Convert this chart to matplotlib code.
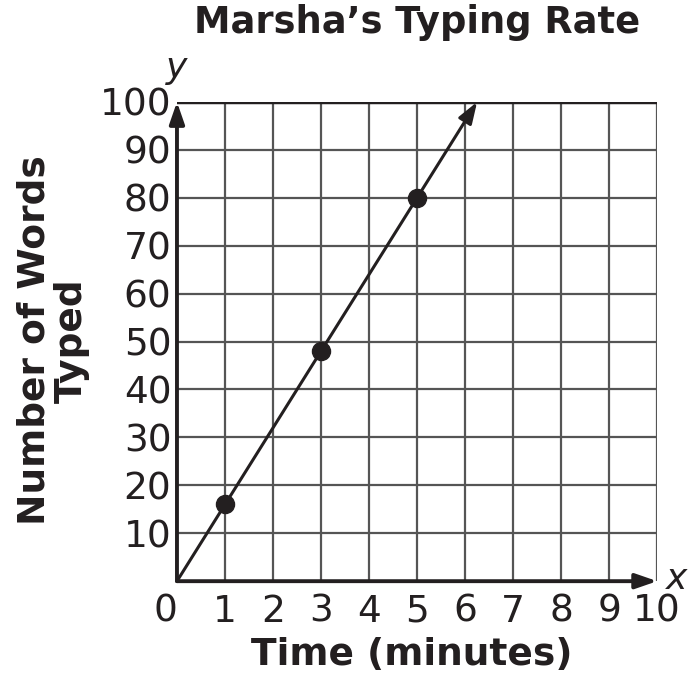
import numpy as np
import matplotlib.pyplot as plt

# Data
minutes = [1, 3, 5]
words = [16, 48, 80]
rate = 16  # words per minute (line through origin)
x_ticks = list(range(0, 11))
y_ticks = list(range(10, 101, 10))

ink = '#231f20'

fig = plt.figure(figsize=(6.94, 6.75), dpi=100)
ax = fig.add_axes([0.255, 0.139, 0.692, 0.71])
ax.set_xlim(0, 10)
ax.set_ylim(0, 100)

# grid
for xv in x_ticks[1:]:
    ax.axvline(xv, color='#555555', lw=1.6, zorder=1)
for yv in y_ticks:
    ax.axhline(yv, color='#555555', lw=1.6, zorder=1)
ax.axhline(100, color=ink, lw=2.5, zorder=1)

for s in ax.spines.values():
    s.set_visible(False)

# axes with arrows
arrow = dict(arrowstyle='-|>,head_length=1.3,head_width=0.45',
             color=ink, lw=2.8, shrinkA=0, shrinkB=0)
ax.annotate('', xy=(10, 0), xytext=(0, 0), arrowprops=arrow,
            annotation_clip=False, zorder=3)
ax.annotate('', xy=(0, 100), xytext=(0, 0), arrowprops=arrow,
            annotation_clip=False, zorder=3)

# typing rate line
x_end = 100 / rate
ax.annotate('', xy=(x_end, 100), xytext=(0, 0),
            arrowprops=dict(arrow, lw=2.2),
            annotation_clip=False, zorder=3)
ax.plot(minutes, words, 'o', color=ink, ms=13, zorder=4)

ax.set_xticks(x_ticks)
ax.set_yticks(y_ticks)
ax.tick_params(length=0, labelsize=27, colors=ink)
ax.tick_params(axis='x', pad=9)
ax.tick_params(axis='y', pad=4)
ax.set_xticklabels([str(v) for v in x_ticks])
ax.get_xticklabels()[0].set_horizontalalignment('right')

ax.text(0, 103.5, 'y', fontsize=26, style='italic', ha='center', va='bottom', color=ink)
ax.text(10.4, 0.5, 'x', fontsize=26, style='italic', ha='center', va='center', color=ink)

fig.text(0.601, 0.967, 'Marsha\u2019s Typing Rate', fontsize=26.5, fontweight='bold',
         ha='center', va='center', color=ink)
fig.text(0.594, 0.03, 'Time (minutes)', fontsize=27, fontweight='bold',
         ha='center', va='center', color=ink)
fig.text(0.077, 0.496, 'Number of Words\nTyped', fontsize=27, fontweight='bold',
         rotation=90, ha='center', va='center', color=ink, linespacing=1.05)

fig.savefig('out.png', dpi=100, facecolor='white')
